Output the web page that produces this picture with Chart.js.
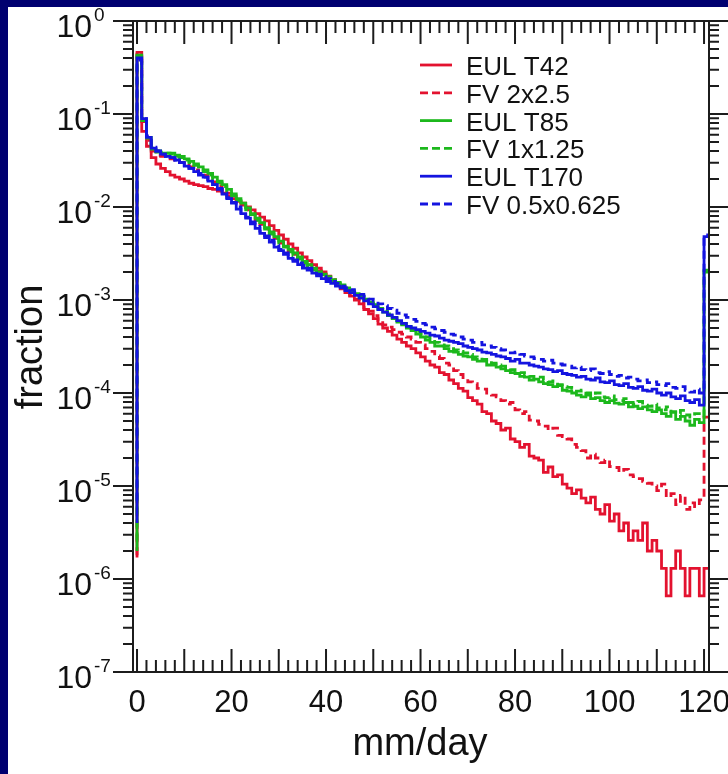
<!DOCTYPE html>
<html lang="en">
<head>
    <meta charset="UTF-8">
    <title>fraction vs mm/day</title>
    <script src="https://cdn.jsdelivr.net/npm/chart.js"></script>
    <style>
        body { margin: 0; background: #000070; }
        canvas { display: block; }
    </style>
</head>
<body>
<canvas id="grafico" width="728" height="774"></canvas>

<script>
    // bins of 1 mm/day, left edges 0..120 (last bin = 120 and more)
    const bins = Array.from({length: 121}, (_, i) => i);
    const labels = ['EUL T42', 'FV 2x2.5', 'EUL T85', 'FV 1x1.25', 'EUL T170', 'FV 0.5x0.625'];
    const xTicks = [0, 20, 40, 60, 80, 100, 120];
    const yExponents = [0, -1, -2, -3, -4, -5, -6, -7];

    // value just left of the first bin (where each line starts)
    const startValues = [1.7e-6, 1.8e-6, 2.0e-6, 2.6e-6, 4.0e-6, 7.0e-6];

    const eulT42 = [0.46, 6.5e-2, 4.5e-2, 3.4e-2, 2.9e-2, 2.6e-2, 2.4e-2, 2.2e-2, 2.1e-2, 2.0e-2,
        1.9e-2, 1.8e-2, 1.74e-2, 1.7e-2, 1.66e-2, 1.58e-2, 1.55e-2, 1.48e-2, 1.41e-2, 1.32e-2,
        1.23e-2, 1.15e-2, 1.1e-2, 1.0e-2, 9.3e-3, 8.5e-3, 7.8e-3, 7.1e-3, 6.3e-3, 5.6e-3,
        5.0e-3, 4.5e-3, 4.0e-3, 3.6e-3, 3.2e-3, 2.9e-3, 2.65e-3, 2.4e-3, 2.2e-3, 2.0e-3,
        1.8e-3, 1.58e-3, 1.45e-3, 1.32e-3, 1.2e-3, 1.1e-3, 1.0e-3, 9.1e-4, 7.9e-4, 7.1e-4,
        6.3e-4, 5.5e-4, 5.0e-4, 4.6e-4, 4.2e-4, 3.8e-4, 3.5e-4, 3.2e-4, 3.0e-4, 2.7e-4,
        2.45e-4, 2.2e-4, 2.0e-4, 1.9e-4, 1.66e-4, 1.58e-4, 1.38e-4, 1.26e-4, 1.12e-4, 1.05e-4,
        8.9e-5, 8.3e-5, 7.6e-5, 6.3e-5, 6.0e-5, 5.0e-5, 4.7e-5, 4.0e-5, 4.2e-5, 3.2e-5,
        3.0e-5, 2.6e-5, 2.8e-5, 2.1e-5, 2.0e-5, 1.9e-5, 1.4e-5, 1.6e-5, 1.26e-5, 1.32e-5,
        1.05e-5, 9.5e-6, 8.3e-6, 9.1e-6, 7.4e-6, 6.6e-6, 7.6e-6, 5.6e-6, 5.0e-6, 6.3e-6,
        4.2e-6, 5.0e-6, 3.3e-6, 4.0e-6, 2.6e-6, 3.3e-6, 2.6e-6, 4.0e-6, 2.0e-6, 2.6e-6,
        2.0e-6, 1.3e-6, 6.6e-7, 1.3e-6, 2.0e-6, 1.3e-6, 6.6e-7, 1.3e-6, 1.3e-6, 6.6e-7,
        1.3e-6];

    const fv2x25 = [0.44, 8.3e-2, 5.2e-2, 4.0e-2, 3.6e-2, 3.5e-2, 3.4e-2, 3.3e-2, 3.2e-2, 3.0e-2,
        2.9e-2, 2.7e-2, 2.5e-2, 2.3e-2, 2.2e-2, 2.0e-2, 1.86e-2, 1.7e-2, 1.55e-2, 1.41e-2,
        1.32e-2, 1.17e-2, 1.05e-2, 9.3e-3, 8.3e-3, 7.2e-3, 6.5e-3, 5.8e-3, 5.1e-3, 4.6e-3,
        4.1e-3, 3.7e-3, 3.4e-3, 3.1e-3, 2.85e-3, 2.6e-3, 2.4e-3, 2.2e-3, 2.05e-3, 1.9e-3,
        1.78e-3, 1.66e-3, 1.55e-3, 1.41e-3, 1.29e-3, 1.12e-3, 1.02e-3, 9.3e-4, 8.3e-4, 7.6e-4,
        6.8e-4, 6.0e-4, 5.4e-4, 5.1e-4, 4.8e-4, 4.5e-4, 4.3e-4, 4.0e-4, 3.8e-4, 3.5e-4,
        3.3e-4, 3.0e-4, 2.8e-4, 2.5e-4, 2.35e-4, 2.1e-4, 2.0e-4, 1.74e-4, 1.58e-4, 1.41e-4,
        1.32e-4, 1.26e-4, 1.12e-4, 1.1e-4, 1.0e-4, 9.5e-5, 9.1e-5, 8.3e-5, 7.6e-5, 7.9e-5,
        6.6e-5, 6.0e-5, 6.3e-5, 5.1e-5, 5.0e-5, 4.6e-5, 4.4e-5, 4.0e-5, 4.2e-5, 3.5e-5,
        3.4e-5, 3.2e-5, 2.8e-5, 2.6e-5, 2.4e-5, 2.0e-5, 2.2e-5, 2.0e-5, 1.78e-5, 1.9e-5,
        1.62e-5, 1.58e-5, 1.41e-5, 1.51e-5, 1.32e-5, 1.26e-5, 1.2e-5, 1.12e-5, 1.07e-5, 1.0e-5,
        8.9e-6, 1.05e-5, 7.6e-6, 8.3e-6, 6.3e-6, 7.9e-6, 5.6e-6, 6.6e-6, 6.0e-6, 7.1e-6,
        5.5e-5];

    const eulT85 = [0.43, 8.5e-2, 5.5e-2, 4.2e-2, 3.9e-2, 3.8e-2, 3.8e-2, 3.8e-2, 3.6e-2, 3.5e-2,
        3.3e-2, 3.1e-2, 2.9e-2, 2.7e-2, 2.5e-2, 2.3e-2, 2.1e-2, 1.9e-2, 1.74e-2, 1.55e-2,
        1.38e-2, 1.23e-2, 1.1e-2, 9.8e-3, 8.5e-3, 7.6e-3, 6.8e-3, 6.0e-3, 5.4e-3, 4.8e-3,
        4.3e-3, 3.8e-3, 3.5e-3, 3.2e-3, 2.9e-3, 2.6e-3, 2.4e-3, 2.2e-3, 2.0e-3, 1.9e-3,
        1.78e-3, 1.66e-3, 1.55e-3, 1.45e-3, 1.35e-3, 1.26e-3, 1.17e-3, 1.1e-3, 1.02e-3, 9.5e-4,
        8.9e-4, 7.9e-4, 7.4e-4, 6.8e-4, 6.3e-4, 5.8e-4, 5.4e-4, 5.0e-4, 4.7e-4, 4.3e-4,
        4.0e-4, 3.7e-4, 3.5e-4, 3.2e-4, 3.2e-4, 3.0e-4, 2.8e-4, 2.75e-4, 2.6e-4, 2.5e-4,
        2.45e-4, 2.3e-4, 2.2e-4, 2.2e-4, 2.0e-4, 2.0e-4, 1.9e-4, 1.82e-4, 1.74e-4, 1.66e-4,
        1.62e-4, 1.51e-4, 1.48e-4, 1.38e-4, 1.41e-4, 1.32e-4, 1.26e-4, 1.23e-4, 1.17e-4, 1.2e-4,
        1.07e-4, 1.05e-4, 1.0e-4, 9.5e-5, 9.1e-5, 9.5e-5, 8.7e-5, 8.9e-5, 8.3e-5, 7.9e-5,
        8.3e-5, 7.8e-5, 7.6e-5, 7.9e-5, 7.1e-5, 7.2e-5, 6.8e-5, 7.1e-5, 6.6e-5, 6.3e-5,
        6.6e-5, 6.0e-5, 5.6e-5, 6.2e-5, 5.2e-5, 5.6e-5, 5.0e-5, 4.5e-5, 5.2e-5, 4.8e-5,
        2.1e-3];

    const fv1x125 = [0.42, 8.9e-2, 5.6e-2, 4.3e-2, 4.0e-2, 3.9e-2, 3.8e-2, 3.7e-2, 3.5e-2, 3.4e-2,
        3.2e-2, 3.0e-2, 2.8e-2, 2.6e-2, 2.4e-2, 2.2e-2, 2.0e-2, 1.82e-2, 1.66e-2, 1.48e-2,
        1.32e-2, 1.17e-2, 1.05e-2, 9.3e-3, 8.3e-3, 7.2e-3, 6.5e-3, 5.8e-3, 5.1e-3, 4.6e-3,
        4.1e-3, 3.7e-3, 3.3e-3, 3.0e-3, 2.75e-3, 2.5e-3, 2.35e-3, 2.1e-3, 2.0e-3, 1.86e-3,
        1.74e-3, 1.62e-3, 1.51e-3, 1.41e-3, 1.32e-3, 1.23e-3, 1.15e-3, 1.07e-3, 1.0e-3, 9.3e-4,
        8.7e-4, 8.1e-4, 7.6e-4, 7.1e-4, 6.5e-4, 6.0e-4, 5.6e-4, 5.2e-4, 4.9e-4, 4.6e-4,
        4.3e-4, 4.0e-4, 3.8e-4, 3.5e-4, 3.3e-4, 3.2e-4, 3.0e-4, 2.9e-4, 2.8e-4, 2.7e-4,
        2.6e-4, 2.45e-4, 2.4e-4, 2.3e-4, 2.2e-4, 2.1e-4, 2.0e-4, 1.95e-4, 1.86e-4, 1.78e-4,
        1.7e-4, 1.66e-4, 1.58e-4, 1.51e-4, 1.45e-4, 1.48e-4, 1.38e-4, 1.32e-4, 1.35e-4, 1.23e-4,
        1.17e-4, 1.15e-4, 1.12e-4, 1.05e-4, 1.07e-4, 1.0e-4, 9.5e-5, 1.0e-4, 9.1e-5, 8.9e-5,
        9.3e-5, 8.5e-5, 8.3e-5, 8.7e-5, 7.9e-5, 7.6e-5, 8.1e-5, 7.4e-5, 7.2e-5, 7.6e-5,
        6.9e-5, 6.6e-5, 7.1e-5, 6.3e-5, 6.0e-5, 6.5e-5, 5.8e-5, 5.5e-5, 6.0e-5, 5.6e-5,
        2.0e-3];

    const eulT170 = [0.40, 8.9e-2, 5.6e-2, 4.3e-2, 4.0e-2, 3.7e-2, 3.5e-2, 3.4e-2, 3.2e-2, 3.0e-2,
        2.75e-2, 2.6e-2, 2.4e-2, 2.2e-2, 2.1e-2, 1.9e-2, 1.74e-2, 1.55e-2, 1.38e-2, 1.23e-2,
        1.1e-2, 9.5e-3, 8.5e-3, 7.6e-3, 6.6e-3, 5.9e-3, 5.2e-3, 4.7e-3, 4.2e-3, 3.7e-3,
        3.4e-3, 3.1e-3, 2.8e-3, 2.6e-3, 2.4e-3, 2.2e-3, 2.1e-3, 1.95e-3, 1.82e-3, 1.7e-3,
        1.58e-3, 1.51e-3, 1.41e-3, 1.35e-3, 1.26e-3, 1.2e-3, 1.12e-3, 1.05e-3, 9.8e-4, 9.1e-4,
        8.5e-4, 7.9e-4, 7.4e-4, 6.9e-4, 6.5e-4, 6.0e-4, 5.6e-4, 5.2e-4, 5.0e-4, 4.8e-4,
        4.6e-4, 4.4e-4, 4.2e-4, 4.1e-4, 3.9e-4, 3.7e-4, 3.6e-4, 3.5e-4, 3.4e-4, 3.2e-4,
        3.1e-4, 3.0e-4, 2.9e-4, 2.75e-4, 2.7e-4, 2.6e-4, 2.5e-4, 2.45e-4, 2.35e-4, 2.2e-4,
        2.3e-4, 2.1e-4, 2.1e-4, 2.0e-4, 1.95e-4, 1.9e-4, 1.82e-4, 1.78e-4, 1.7e-4, 1.74e-4,
        1.62e-4, 1.58e-4, 1.55e-4, 1.48e-4, 1.51e-4, 1.41e-4, 1.38e-4, 1.45e-4, 1.32e-4, 1.29e-4,
        1.35e-4, 1.23e-4, 1.2e-4, 1.26e-4, 1.15e-4, 1.12e-4, 1.17e-4, 1.07e-4, 1.05e-4, 1.1e-4,
        1.0e-4, 9.5e-5, 1.0e-4, 9.1e-5, 8.7e-5, 9.3e-5, 8.3e-5, 7.9e-5, 8.5e-5, 7.4e-5,
        4.8e-3];

    const fv05x0625 = [0.38, 9.3e-2, 5.8e-2, 4.4e-2, 4.0e-2, 3.7e-2, 3.5e-2, 3.4e-2, 3.2e-2, 3.0e-2,
        2.8e-2, 2.6e-2, 2.45e-2, 2.3e-2, 2.1e-2, 1.9e-2, 1.74e-2, 1.58e-2, 1.41e-2, 1.26e-2,
        1.12e-2, 1.0e-2, 8.7e-3, 7.8e-3, 6.9e-3, 6.2e-3, 5.5e-3, 4.9e-3, 4.4e-3, 3.9e-3,
        3.5e-3, 3.2e-3, 2.95e-3, 2.7e-3, 2.5e-3, 2.35e-3, 2.2e-3, 2.0e-3, 1.9e-3, 1.78e-3,
        1.7e-3, 1.58e-3, 1.51e-3, 1.41e-3, 1.35e-3, 1.29e-3, 1.2e-3, 1.15e-3, 1.1e-3, 1.02e-3,
        9.8e-4, 9.1e-4, 8.7e-4, 8.1e-4, 7.8e-4, 7.2e-4, 6.9e-4, 6.5e-4, 6.2e-4, 5.9e-4,
        5.6e-4, 5.4e-4, 5.1e-4, 4.9e-4, 4.7e-4, 4.5e-4, 4.3e-4, 4.2e-4, 4.0e-4, 3.8e-4,
        3.7e-4, 3.5e-4, 3.5e-4, 3.3e-4, 3.2e-4, 3.1e-4, 3.0e-4, 2.9e-4, 2.8e-4, 2.7e-4,
        2.75e-4, 2.6e-4, 2.5e-4, 2.45e-4, 2.35e-4, 2.3e-4, 2.2e-4, 2.25e-4, 2.1e-4, 2.05e-4,
        2.0e-4, 1.95e-4, 1.86e-4, 1.9e-4, 1.78e-4, 1.74e-4, 1.82e-4, 1.66e-4, 1.62e-4, 1.7e-4,
        1.58e-4, 1.51e-4, 1.55e-4, 1.45e-4, 1.48e-4, 1.41e-4, 1.35e-4, 1.38e-4, 1.29e-4, 1.32e-4,
        1.23e-4, 1.2e-4, 1.26e-4, 1.15e-4, 1.12e-4, 1.17e-4, 1.07e-4, 1.02e-4, 1.1e-4, 1.0e-4,
        5.0e-3];

    const series = [eulT42, fv2x25, eulT85, fv1x125, eulT170, fv05x0625];
    const cores = ['#e3122f', '#e3122f', '#1cb81c', '#1cb81c', '#1414e0', '#1414e0'];
    const tracejado = [[], [8, 5], [], [8, 5], [], [8, 5]];

    const fonte = '"Liberation Sans", Arial, sans-serif';

    // histogram steps: one point per bin left edge, plus the closing edge
    function pontos(valores, inicio) {
        const p = [{x: bins[0], y: inicio}];
        for (let i = 0; i < bins.length; i++) {
            p.push({x: bins[i], y: valores[i]});
        }
        p.push({x: bins[bins.length - 1] + 1, y: valores[valores.length - 1]});
        return p;
    }

    const datasets = series.map((valores, i) => ({
        label: labels[i],
        data: pontos(valores, startValues[i]),
        borderColor: cores[i],
        borderWidth: 2.8,
        borderDash: tracejado[i],
        stepped: 'before',
        pointRadius: 0,
        fill: false,
        order: series.length - i
    }));

    const moldura = {
        id: 'moldura',
        beforeDraw(chart) {
            const ctx = chart.ctx;
            ctx.save();
            ctx.fillStyle = '#000070';
            ctx.fillRect(0, 0, chart.width, chart.height);
            ctx.fillStyle = '#ffffff';
            ctx.fillRect(8, 7, chart.width - 8, chart.height - 7);
            ctx.restore();
        },
        afterDraw(chart) {
            const ctx = chart.ctx;
            const a = chart.chartArea;
            const x = chart.scales.x;
            const y = chart.scales.y;
            ctx.save();
            ctx.strokeStyle = '#1c1c1c';
            ctx.lineWidth = 2;
            ctx.strokeRect(a.left, a.top, a.right - a.left, a.bottom - a.top);

            ctx.beginPath();
            // x ticks point inward, every 2, long every 10
            for (let v = 0; v <= 120; v += 2) {
                const px = x.getPixelForValue(v);
                const len = v % 10 === 0 ? 23 : 12;
                ctx.moveTo(px, a.bottom); ctx.lineTo(px, a.bottom - len);
                ctx.moveTo(px, a.top); ctx.lineTo(px, a.top + len);
            }
            // y ticks point outward
            for (let e = -7; e <= 0; e++) {
                for (let m = 1; m <= 9; m++) {
                    if (e === 0 && m > 1) break;
                    const py = y.getPixelForValue(m * Math.pow(10, e));
                    const len = m === 1 ? 20 : 10;
                    ctx.moveTo(a.left, py); ctx.lineTo(a.left - len, py);
                    ctx.moveTo(a.right, py); ctx.lineTo(a.right + len, py);
                }
            }
            ctx.stroke();

            ctx.fillStyle = '#111111';
            // x labels
            ctx.font = '31px ' + fonte;
            ctx.textAlign = 'center';
            ctx.textBaseline = 'alphabetic';
            xTicks.forEach(v => ctx.fillText(String(v), x.getPixelForValue(v), 712));

            // y labels 10^n
            yExponents.forEach(n => {
                const py = y.getPixelForValue(Math.pow(10, n));
                ctx.font = '32px ' + fonte;
                ctx.textAlign = 'right';
                ctx.fillText('10', 92, py + 16);
                ctx.font = '19px ' + fonte;
                ctx.textAlign = 'left';
                ctx.fillText(String(n), 94, py);
            });

            // axis titles
            ctx.font = '38px ' + fonte;
            ctx.textAlign = 'center';
            ctx.fillText('mm/day', 420, 755);
            ctx.save();
            ctx.translate(42, 347);
            ctx.rotate(-Math.PI / 2);
            ctx.fillText('fraction', 0, 0);
            ctx.restore();

            // legend
            chart.data.datasets.forEach((ds, i) => {
                const ly = 65 + i * 27.8;
                ctx.strokeStyle = ds.borderColor;
                ctx.lineWidth = 2.8;
                ctx.setLineDash(ds.borderDash.length ? [8, 4] : []);
                ctx.beginPath();
                ctx.moveTo(420, ly);
                ctx.lineTo(452, ly);
                ctx.stroke();
                ctx.setLineDash([]);
                ctx.font = '26px ' + fonte;
                ctx.textAlign = 'left';
                ctx.fillStyle = '#111111';
                ctx.fillText(ds.label, 466, ly + 10);
            });
            ctx.restore();
        }
    };

    new Chart(document.getElementById('grafico'), {
        type: 'line',
        data: {datasets: datasets},
        options: {
            responsive: false,
            animation: false,
            layout: {padding: {left: 133, right: 19, top: 21, bottom: 102}},
            plugins: {legend: {display: false}, tooltip: {enabled: false}},
            scales: {
                x: {type: 'linear', min: -0.85, max: 121.05, display: false},
                y: {type: 'logarithmic', min: 1e-7, max: 1, display: false}
            }
        },
        plugins: [moldura]
    });
</script>
</body>
</html>
